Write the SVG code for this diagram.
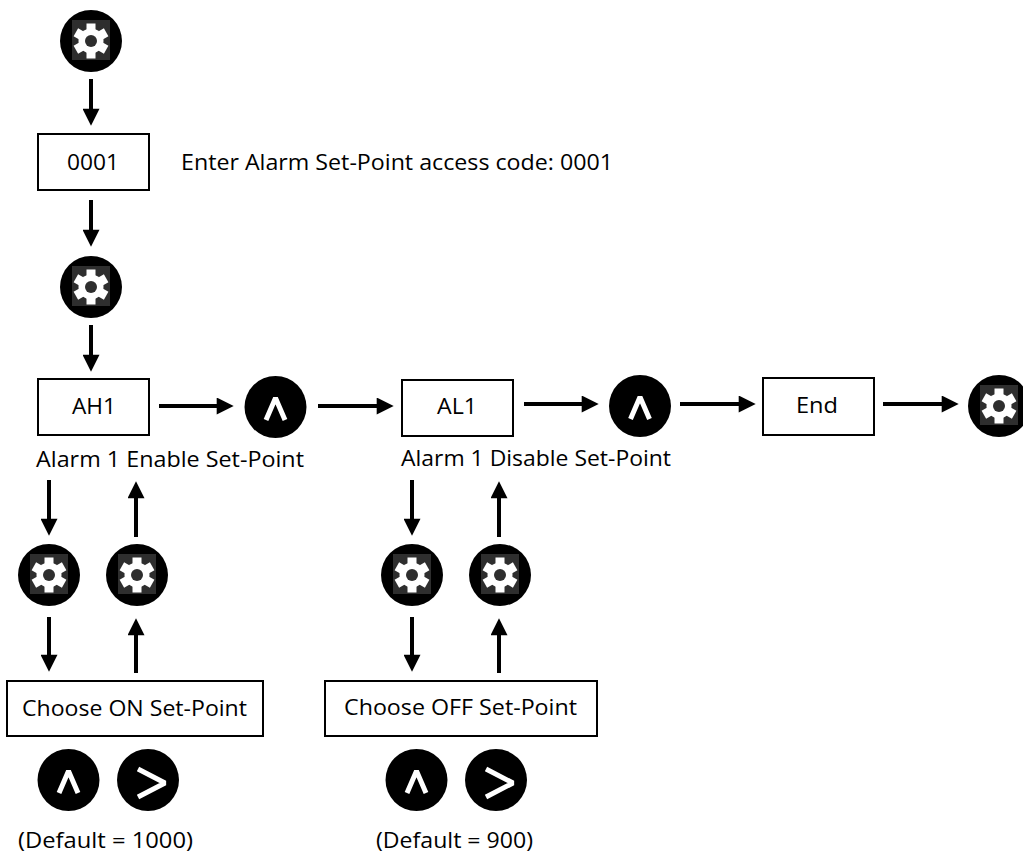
<svg xmlns="http://www.w3.org/2000/svg" xmlns:xlink="http://www.w3.org/1999/xlink" width="1023" height="855" viewBox="0 0 1023 855">
<style>
.box{fill:#fff;stroke:#000;stroke-width:2}
.t{font-family:"Open Sans","Liberation Sans",sans-serif;font-size:21px;fill:#000}
.c{text-anchor:middle}
.conn line{stroke:#000;stroke-width:4;marker-end:url(#ah)}
.sym{fill:none;stroke:#fff;stroke-width:5;stroke-linejoin:bevel}
</style>
<defs>
<marker id="ah" viewBox="0 0 10 10" markerUnits="userSpaceOnUse" markerWidth="19" markerHeight="17" refX="3.7" refY="5" orient="auto">
<path d="M0,0 L10,5 L0,10 z" fill="#000"/>
</marker>
<g id="gear">
<circle r="31" fill="#000"/>
<rect x="-19" y="-21" width="38" height="40" fill="#2e2e2e"/>
<g fill="#fff">
<circle r="12.5"/>
<rect x="-4.5" y="-17.5" width="9" height="10"/>
<rect x="-4.5" y="-17.5" width="9" height="10" transform="rotate(60)"/>
<rect x="-4.5" y="-17.5" width="9" height="10" transform="rotate(120)"/>
<rect x="-4.5" y="-17.5" width="9" height="10" transform="rotate(180)"/>
<rect x="-4.5" y="-17.5" width="9" height="10" transform="rotate(240)"/>
<rect x="-4.5" y="-17.5" width="9" height="10" transform="rotate(300)"/>
</g>
<circle r="6" fill="#2e2e2e"/>
</g>
<g id="up">
<circle r="31" fill="#000"/>
<polyline class="sym" points="-9.5,13 0,-9 9.5,13"/>
</g>
<g id="right">
<circle r="31" fill="#000"/>
<polyline class="sym" points="-10,-11 17,3 -10,17"/>
</g>
</defs>
<rect width="1023" height="855" fill="#fff"/>

<g class="conn">
<line x1="91" y1="79" x2="91" y2="115"/>
<line x1="91" y1="200" x2="91" y2="236"/>
<line x1="91" y1="325" x2="91" y2="361"/>
<line x1="159" y1="406" x2="223" y2="406"/>
<line x1="318" y1="406" x2="383" y2="406"/>
<line x1="524" y1="404" x2="588" y2="404"/>
<line x1="680" y1="404" x2="745" y2="404"/>
<line x1="883" y1="404" x2="948" y2="404"/>
<line x1="49" y1="480" x2="49" y2="525"/>
<line x1="136" y1="537" x2="136" y2="492"/>
<line x1="49" y1="617" x2="49" y2="661"/>
<line x1="136" y1="673" x2="136" y2="629"/>
<line x1="412" y1="480" x2="412" y2="525"/>
<line x1="499" y1="537" x2="499" y2="492"/>
<line x1="412" y1="617" x2="412" y2="661"/>
<line x1="499" y1="673" x2="499" y2="629"/>
</g>

<g id="gear-start"><use xlink:href="#gear" href="#gear" x="91" y="41"/></g>
<g id="code-box">
<rect class="box" x="38" y="134" width="111" height="56"/>
<text class="t c" x="93" y="170" textLength="52" lengthAdjust="spacingAndGlyphs">0001</text>
</g>
<g id="code-note">
<text class="t" x="181" y="170" textLength="432" lengthAdjust="spacingAndGlyphs">Enter Alarm Set-Point access code: 0001</text>
</g>
<g id="gear-confirm"><use xlink:href="#gear" href="#gear" x="91" y="287"/></g>
<g id="ah1-box">
<rect class="box" x="38" y="379" width="111" height="56"/>
<text class="t c" x="94" y="414" textLength="44" lengthAdjust="spacingAndGlyphs">AH1</text>
<text class="t" x="36" y="467" textLength="268" lengthAdjust="spacingAndGlyphs">Alarm 1 Enable Set-Point</text>
</g>
<g id="up-1"><use xlink:href="#up" href="#up" x="275.5" y="407"/></g>
<g id="al1-box">
<rect class="box" x="402" y="380" width="111" height="56"/>
<text class="t c" x="457" y="414" textLength="40" lengthAdjust="spacingAndGlyphs">AL1</text>
<text class="t" x="401" y="466" textLength="270" lengthAdjust="spacingAndGlyphs">Alarm 1 Disable Set-Point</text>
</g>
<g id="up-2"><use xlink:href="#up" href="#up" x="640" y="406"/></g>
<g id="end-box">
<rect class="box" x="763" y="378" width="111" height="57"/>
<text class="t c" x="817" y="413" textLength="42" lengthAdjust="spacingAndGlyphs">End</text>
</g>
<g id="gear-end"><use xlink:href="#gear" href="#gear" x="999" y="406"/></g>

<g id="gear-ah1-in"><use xlink:href="#gear" href="#gear" x="49" y="575"/></g>
<g id="gear-ah1-out"><use xlink:href="#gear" href="#gear" x="137" y="575"/></g>
<g id="choose-on">
<rect class="box" x="7" y="681" width="256" height="55"/>
<text class="t" x="22" y="716" textLength="225" lengthAdjust="spacingAndGlyphs">Choose ON Set-Point</text>
</g>
<g id="on-up"><use xlink:href="#up" href="#up" x="68.5" y="780"/></g>
<g id="on-right"><use xlink:href="#right" href="#right" x="148" y="780"/></g>
<g id="on-default">
<text class="t" x="18" y="848" textLength="175" lengthAdjust="spacingAndGlyphs">(Default = 1000)</text>
</g>

<g id="gear-al1-in"><use xlink:href="#gear" href="#gear" x="412" y="575"/></g>
<g id="gear-al1-out"><use xlink:href="#gear" href="#gear" x="500" y="575"/></g>
<g id="choose-off">
<rect class="box" x="325" y="681" width="272" height="55"/>
<text class="t" x="344" y="715" textLength="233" lengthAdjust="spacingAndGlyphs">Choose OFF Set-Point</text>
</g>
<g id="off-up"><use xlink:href="#up" href="#up" x="416.5" y="780"/></g>
<g id="off-right"><use xlink:href="#right" href="#right" x="496" y="780"/></g>
<g id="off-default">
<text class="t" x="376" y="848" textLength="157" lengthAdjust="spacingAndGlyphs">(Default = 900)</text>
</g>
</svg>
